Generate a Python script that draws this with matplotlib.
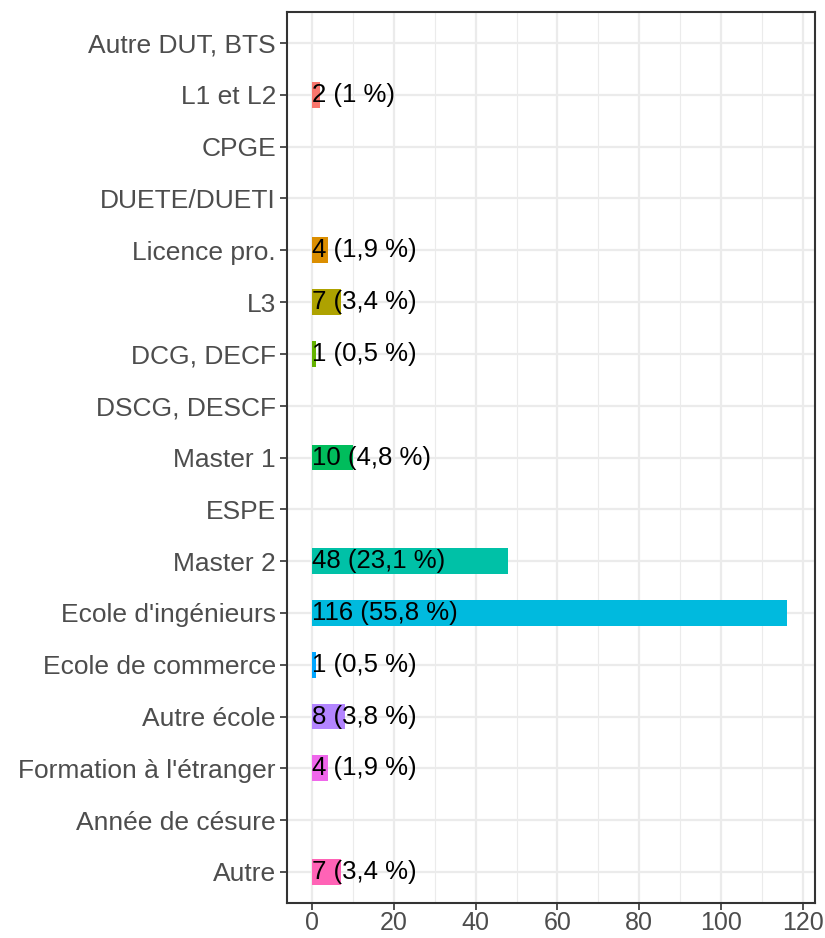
import matplotlib
matplotlib.use("Agg")
import matplotlib.pyplot as plt
from matplotlib.ticker import MultipleLocator

categories = ["Autre DUT, BTS", "L1 et L2", "CPGE", "DUETE/DUETI", "Licence pro.", "L3",
              "DCG, DECF", "DSCG, DESCF", "Master 1", "ESPE", "Master 2",
              "Ecole d'ingénieurs", "Ecole de commerce", "Autre école",
              "Formation à l'étranger", "Année de césure", "Autre"]
counts = [0, 2, 0, 0, 4, 7, 1, 0, 10, 0, 48, 116, 1, 8, 4, 0, 7]
labels = [None, "2 (1 %)", None, None, "4 (1,9 %)", "7 (3,4 %)", "1 (0,5 %)", None,
          "10 (4,8 %)", None, "48 (23,1 %)", "116 (55,8 %)", "1 (0,5 %)", "8 (3,8 %)",
          "4 (1,9 %)", None, "7 (3,4 %)"]
palette = ["#F8766D", "#DB8E00", "#AEA200", "#64B200", "#00BD5C", "#00C1A7",
           "#00BADE", "#00A6FF", "#B385FF", "#EF67EB", "#FF63B6"]

plt.rcParams['font.family'] = ['Liberation Sans', 'DejaVu Sans']

fig = plt.figure(figsize=(8.25, 9.38), dpi=100)
ax = fig.add_axes([287/825, 1-903/938, (815-287)/825, (903-12)/938])

n = len(categories)
ypos = list(range(n - 1, -1, -1))
ci = 0
for y, c, lab in zip(ypos, counts, labels):
    if c > 0:
        ax.barh(y, c, height=0.5, color=palette[ci], zorder=2)
        ci += 1
    if lab:
        ax.text(0, y, lab, ha='left', va='center', fontsize=18.5, color='black', zorder=3)

ax.set_xlim(-6.07, 122.9)
ax.set_ylim(-0.6, n - 1 + 0.6)
ax.set_yticks(ypos)
ax.set_yticklabels(categories)
ax.xaxis.set_major_locator(MultipleLocator(20))
ax.xaxis.set_minor_locator(MultipleLocator(10))
ax.grid(which='major', color='#EBEBEB', linewidth=1.6, zorder=0)
ax.grid(which='minor', axis='x', color='#EBEBEB', linewidth=0.8, zorder=0)
ax.set_axisbelow(True)
ax.tick_params(axis='both', which='major', length=5, width=1.2, color='#333333',
               labelsize=19, labelcolor='#4D4D4D', pad=3)
ax.tick_params(axis='x', which='minor', length=0)
ax.tick_params(axis='x', which='major', pad=0.5, labelsize=18)
for s in ax.spines.values():
    s.set_color('#333333')
    s.set_linewidth(1.5)

fig.savefig("out.png", dpi=100)
